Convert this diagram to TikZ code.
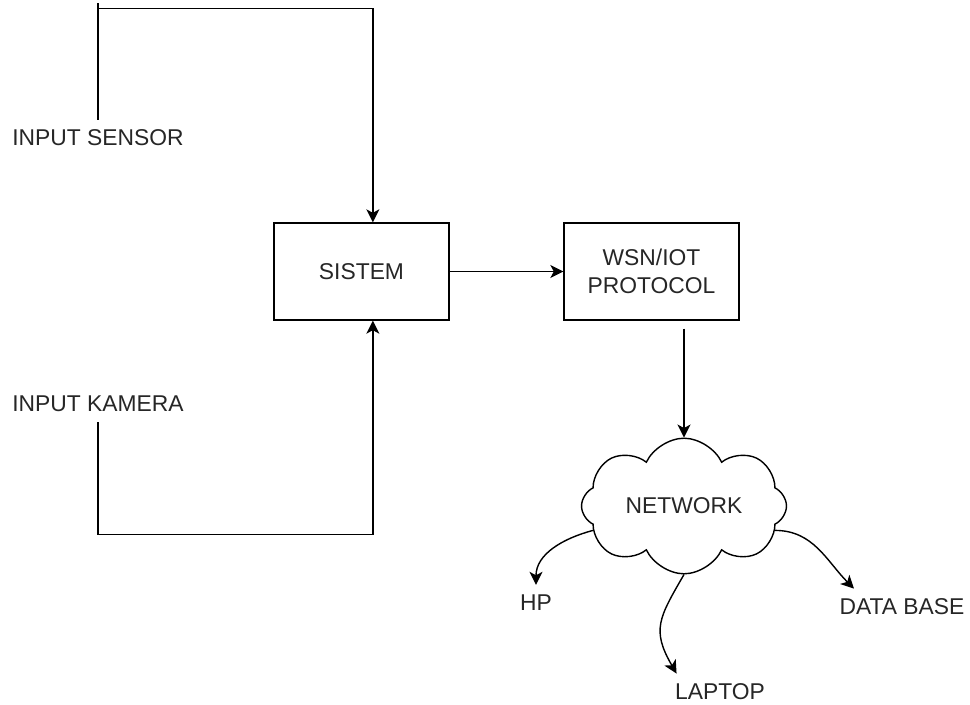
\documentclass[tikz,border=0pt]{standalone}
\usepackage{fontspec}
\setmainfont{Liberation Sans}
\usetikzlibrary{arrows.meta,shapes.symbols}

\begin{document}
\begin{tikzpicture}[x=0.02cm,y=-0.02cm]
	 \tikzstyle{txt}=[inner sep=0.2cm,text=black!85,font=\fontsize{13}{16}\selectfont]
	 \tikzstyle{box}=[draw,thick,minimum width=3.5cm,minimum height=1.94cm,align=center,txt,inner sep=0pt]
	 \tikzstyle{conn} = [draw,thick,-{Stealth[length=0.26cm,width=0.26cm,inset=0.07cm]},black]
	 \useasboundingbox (0,0) rectangle (970,704);

	 \node[txt] (sensor) at (98,138) {INPUT SENSOR};
	 \node[txt] (kamera) at (98,404) {INPUT KAMERA};
	 \node[box] (sistem) at (361.5,271.5) {SISTEM};
	 \node[box] (wsn) at (651.5,271.5) {WSN/IOT\\PROTOCOL};
	 \node[cloud,draw,thick,cloud puffs=8,cloud puff arc=130,aspect=1.6,minimum width=4.1cm,minimum height=2.6cm,txt,inner sep=0pt] (net) at (684,506) {NETWORK};
	 \node[txt] (hp) at (536,603) {HP};
	 \node[txt] (laptop) at (720,692) {LAPTOP};
	 \node[txt] (db) at (902,607) {DATA BASE};

	 % input lines
	 \draw[conn] (sensor.north) -- ++(0,-111) coordinate (sbend) -| (sistem.77);
	 \draw[thick] (sbend) -- ++(0,-6);
	 \draw[conn] (kamera.south) -- ++(0,112) -| (sistem.283);

	 \draw[conn] (sistem.east) -- (wsn.west);
	 \draw[conn,shorten <=0.16cm] (net.north |- wsn.south) -- (net.north);

	 % network outputs
	 \draw[conn] (net.195) to[out=195,in=90] (hp.north);
	 \draw[conn] (net.south) to[out=240,in=120,looseness=1.3] (laptop.157);
	 \draw[conn] (net.-15) to[out=0,in=135] (db.159);
\end{tikzpicture}
\end{document}
